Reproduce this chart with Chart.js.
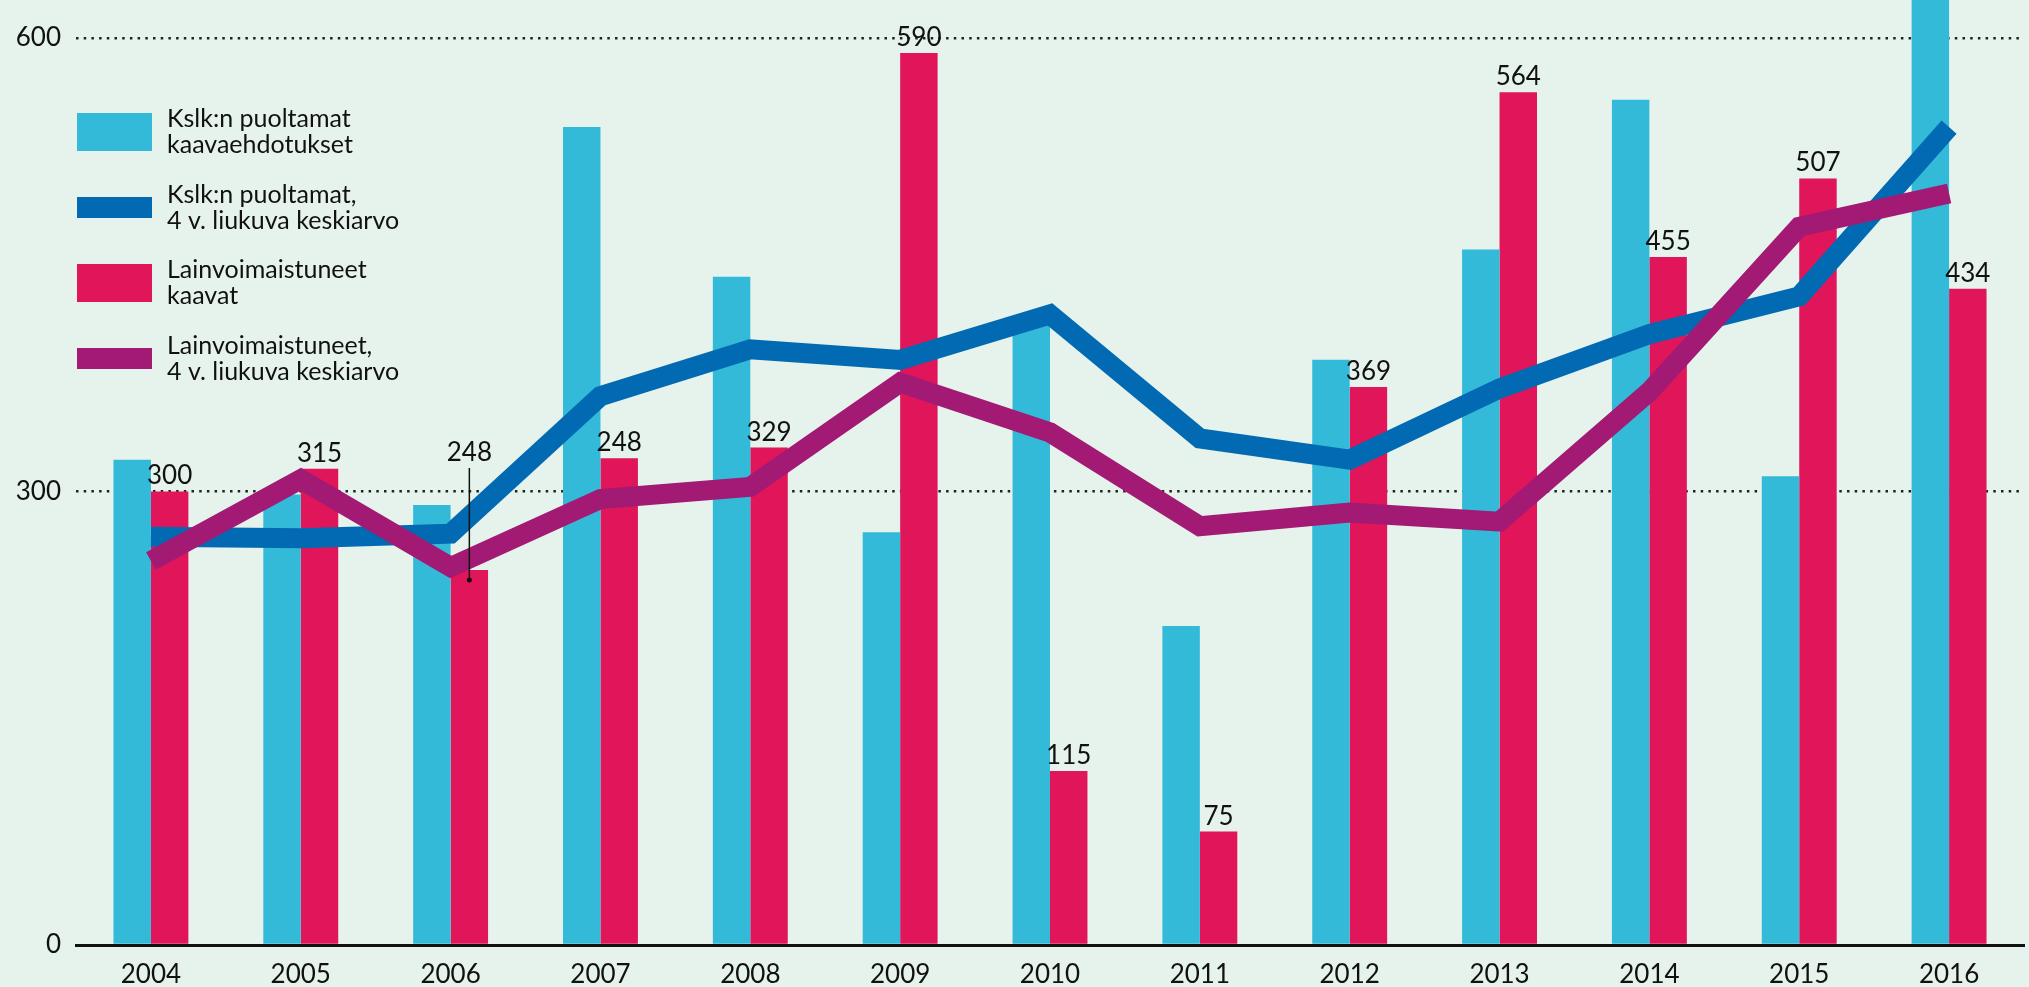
<!DOCTYPE html>
<html>
<head>
<meta charset="utf-8">
<script src="https://cdn.jsdelivr.net/npm/chart.js@4"></script>
<style>
  body { margin: 0; background: #e5f3ec; }
  #wrap { width: 2029px; height: 987px; }
</style>
</head>
<body>
<div id="wrap"><canvas id="c1" width="2029" height="987"></canvas></div>
<script>
// years on the x axis
var years = ['2004','2005','2006','2007','2008','2009','2010','2011','2012','2013','2014','2015','2016'];

// Kslk:n puoltamat kaavaehdotukset (bars, cyan)
var puoltamat = [321, 298, 291, 541, 442, 273, 412, 211, 387, 460, 559, 310, 650];
// Lainvoimaistuneet kaavat (bars, red)
var lainvoimaiset = [300, 315, 248, 322, 329, 590, 115, 75, 369, 564, 455, 507, 434];
// labels printed above the red bars (as in the original, 2007 says 248)
var lainvoimaisetLabels = ['300','315','248','248','329','590','115','75','369','564','455','507','434'];
// 4 v. liukuva keskiarvo lines
var puoltamatKa = [270, 269, 272, 363, 394, 387, 417, 335, 321, 368, 404, 429, 541];
var lainvoimaisetKa = [254, 308, 250, 295, 303, 372, 339, 277, 286, 280, 366, 475, 497];

var yTicks = [0, 300, 600];

var FONT = 'Lato, "Noto Sans", sans-serif';
var TXT = '#111';

var legendItems = [
  { color: '#34bad9', h: 38, lines: ['Kslk:n puoltamat', 'kaavaehdotukset'] },
  { color: '#026ab3', h: 21, lines: ['Kslk:n puoltamat,', '4 v. liukuva keskiarvo'] },
  { color: '#e1155a', h: 38, lines: ['Lainvoimaistuneet', 'kaavat'] },
  { color: '#a21a74', h: 21, lines: ['Lainvoimaistuneet,', '4 v. liukuva keskiarvo'] }
];

// value labels above red bars + legend
var labelsPlugin = {
  id: 'labels',
  afterDatasetsDraw: function(chart) {
    var ctx = chart.ctx;
    var meta = chart.getDatasetMeta(1);
    ctx.save();
    ctx.fillStyle = TXT;
    ctx.strokeStyle = TXT;
    ctx.font = '26px ' + FONT;
    ctx.textAlign = 'center';
    ctx.textBaseline = 'alphabetic';
    meta.data.forEach(function(bar, i) {
      if (i === 2) {
        // 2006 label lifted up with a leader line
        ctx.fillText(lainvoimaisetLabels[i], bar.x, bar.y - 109);
        ctx.lineWidth = 1.5;
        ctx.beginPath();
        ctx.moveTo(bar.x, bar.y - 102);
        ctx.lineTo(bar.x, bar.y + 10);
        ctx.stroke();
        ctx.beginPath();
        ctx.arc(bar.x, bar.y + 10, 2.5, 0, Math.PI * 2);
        ctx.fill();
      } else {
        ctx.fillText(lainvoimaisetLabels[i], bar.x, bar.y - 7);
      }
    });

    // legend
    ctx.textAlign = 'left';
    ctx.font = '25px ' + FONT;
    for (var k = 0; k < legendItems.length; k++) {
      var it = legendItems[k];
      var cy = 132 + k * 75.5;
      ctx.fillStyle = it.color;
      ctx.fillRect(77, cy - it.h / 2, 75, it.h);
      ctx.fillStyle = TXT;
      ctx.fillText(it.lines[0], 167, cy - 5);
      ctx.fillText(it.lines[1], 167, cy + 21);
    }
    ctx.restore();
  }
};

var ctx = document.getElementById('c1').getContext('2d');
var chart1 = new Chart(ctx, {
  data: {
    labels: years,
    datasets: [{
      type: 'bar',
      label: 'Kslk:n puoltamat kaavaehdotukset',
      data: puoltamat,
      backgroundColor: '#34bad9',
      categoryPercentage: 0.5,
      barPercentage: 1.0,
      order: 3
    }, {
      type: 'bar',
      label: 'Lainvoimaistuneet kaavat',
      data: lainvoimaiset,
      backgroundColor: '#e1155a',
      categoryPercentage: 0.5,
      barPercentage: 1.0,
      order: 3
    }, {
      type: 'line',
      label: 'Kslk:n puoltamat, 4 v. liukuva keskiarvo',
      data: puoltamatKa,
      borderColor: '#026ab3',
      borderWidth: 20,
      pointRadius: 0,
      tension: 0,
      fill: false,
      borderJoinStyle: 'miter',
      borderCapStyle: 'butt',
      order: 2
    }, {
      type: 'line',
      label: 'Lainvoimaistuneet, 4 v. liukuva keskiarvo',
      data: lainvoimaisetKa,
      borderColor: '#a21a74',
      borderWidth: 20,
      pointRadius: 0,
      tension: 0,
      fill: false,
      borderJoinStyle: 'miter',
      borderCapStyle: 'butt',
      order: 1
    }]
  },
  options: {
    responsive: false,
    animation: false,
    layout: { autoPadding: false, padding: { left: 0, right: 5, top: 0, bottom: 0 } },
    plugins: {
      legend: { display: false },
      tooltip: { enabled: false }
    },
    scales: {
      x: {
        grid: { display: false, drawTicks: false },
        border: { display: true, color: '#111', width: 3 },
        ticks: { color: TXT, font: { family: FONT, size: 26 }, padding: 14 },
        afterFit: function(s) { s.height = 42; s.paddingLeft = 0; s.paddingRight = 0; }
      },
      y: {
        min: 0,
        max: 625,
        afterBuildTicks: function(s) {
          s.ticks = yTicks.map(function(v) { return { value: v }; });
        },
        grid: {
          drawTicks: false,
          lineWidth: 2.5,
          color: function(c) { return c.tick && c.tick.value === 0 ? 'rgba(0,0,0,0)' : '#222'; }
        },
        border: { display: false, dash: [2.5, 5.2] },
        ticks: { color: TXT, font: { family: FONT, size: 26 }, padding: 15 },
        afterFit: function(s) { s.width = 76; s.paddingTop = 0; s.paddingBottom = 0; }
      }
    }
  },
  plugins: [labelsPlugin]
});
</script>
</body>
</html>
